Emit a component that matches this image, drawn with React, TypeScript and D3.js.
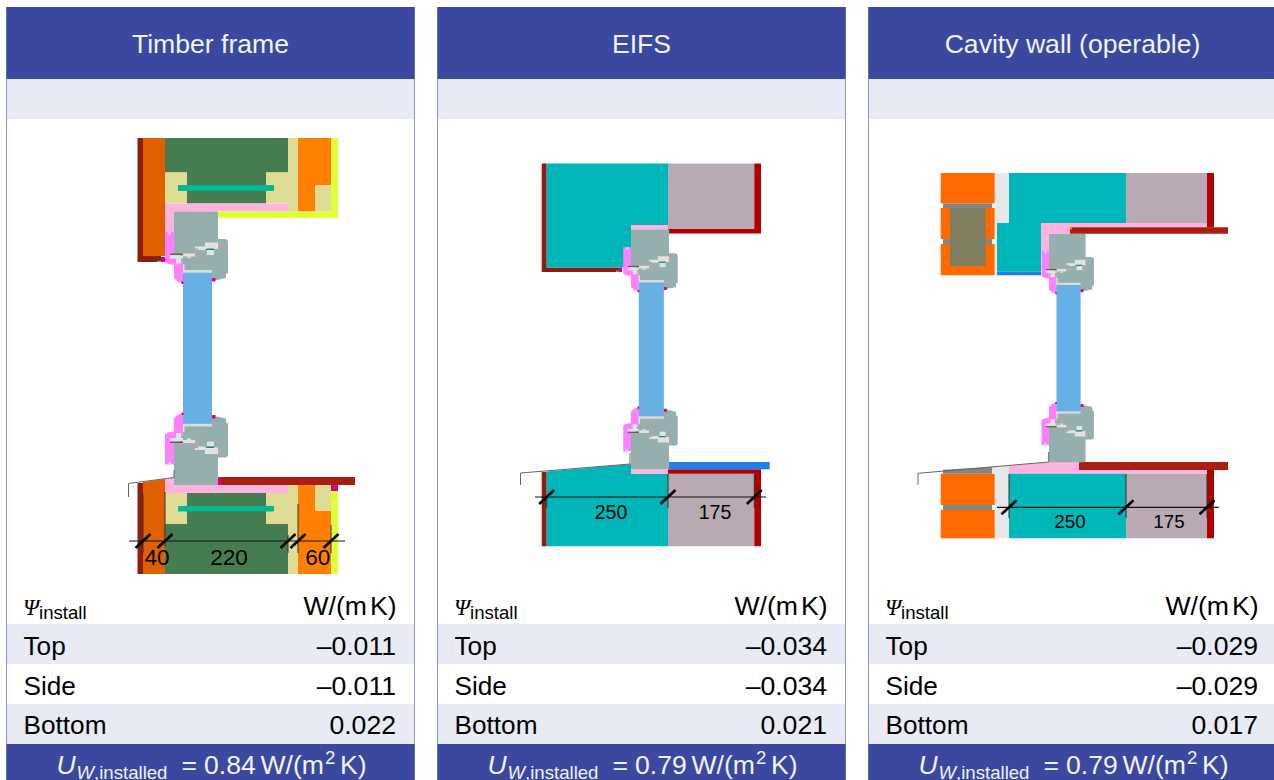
import React from "react";
import * as d3 from "d3";

type Pt = [number, number];
type Shape = { c: string; p: Pt[] };

const titles = ["Timber frame", "EIFS", "Cavity wall (operable)"];
const rowNames = ["Top", "Side", "Bottom"];
const psiTop = ["–0.011", "–0.034", "–0.029"];
const psiSide = ["–0.011", "–0.034", "–0.029"];
const psiBottom = ["0.022", "0.021", "0.017"];
const uValues = ["0.84", "0.79", "0.79"];
const panelLeft = [6.5, 437.5, 868.5];

const C = {
  header: "#3b489f", band: "#e8ebf4", border: "#8a93cf",
  green: "#467d50", beige: "#dfdc96", tealBar: "#00b894", pink: "#ffb3e0",
  orange: "#ff8000", lime: "#e0ff3a", rust: "#e06000", maroon: "#8a1f11",
  gasket: "#ff80ff", dot: "#e0007f", frame: "#94afae", glass: "#66b0e6",
  teal: "#00b6b8", taupe: "#b9a9b2", red: "#b00000", sill: "#a81e12",
  blue: "#1f80e8", brick: "#ff6a00", gray: "#858585", olive: "#7f7f5f",
  light: "#e8e8e8", detail: "#e2e2e2", hatch: "#b5a5a5", dark: "#6b5a5a", seal: "#0e8a8a", leaf: "#44c03a",
};

const r = (c: string, x0: number, y0: number, x1: number, y1: number): Shape => ({
  c, p: [[x0, y0], [x1, y0], [x1, y1], [x0, y1]],
});

const timberWall: Shape[] = [
  { c: C.maroon, p: [[137.5, 138], [143, 138], [143, 256], [161, 256], [161, 262], [137.5, 262]] },
  r(C.rust, 143, 138, 165, 256),
  { c: C.green, p: [[165, 138], [288, 138], [288, 172.5], [266, 172.5], [266, 203.5], [187, 203.5], [187, 172.5], [165, 172.5]] },
  r(C.beige, 165, 172.5, 187, 203.5),
  r(C.beige, 266, 172.5, 288, 203.5),
  r(C.beige, 288, 138, 298, 211.5),
  r(C.tealBar, 178, 185, 274, 191),
  { c: C.pink, p: [[165, 203.5], [288, 203.5], [288, 211.5], [174, 211.5], [174, 232], [165, 232], [165, 256]] },
  { c: C.orange, p: [[298, 138], [331, 138], [331, 185], [315, 185], [315, 211.5], [298, 211.5]] },
  r(C.beige, 315, 185, 331, 211.5),
  { c: C.lime, p: [[331, 138], [338, 138], [338, 218], [218, 218], [218, 211.5], [331, 211.5]] },
  r(C.dot, 161, 257, 165, 262),
  r(C.leaf, 157, 260.5, 161, 262),
  // bottom
  r(C.maroon, 137.5, 483, 143, 574),
  { c: C.rust, p: [[143, 482], [165, 479], [165, 574], [143, 574]] },
  { c: C.green, p: [[187, 493], [266, 493], [266, 524], [288, 524], [288, 574], [165, 574], [165, 524], [187, 524]] },
  r(C.beige, 165, 493, 187, 524),
  r(C.beige, 266, 493, 288, 524),
  r(C.beige, 288, 485, 298, 574),
  r(C.tealBar, 178, 506, 274, 511.5),
  { c: C.pink, p: [[165, 479], [174, 477.5], [174, 485], [288, 485], [288, 493], [165, 493]] },
  { c: C.orange, p: [[298, 485], [315, 485], [315, 511], [331, 511], [331, 574], [298, 574]] },
  r(C.beige, 315, 485, 331, 511),
  r(C.lime, 331, 491, 338, 574),
  r(C.dot, 331, 485, 338, 491),
  r(C.sill, 218, 477, 355, 485),
  r(C.dot, 218, 477, 221.5, 485),
];

const eifsWall: Shape[] = [
  { c: C.maroon, p: [[541.7, 163.5], [546.7, 163.5], [546.7, 267.5], [619, 267.5], [619, 272], [541.7, 272]] },
  { c: C.teal, p: [[546.7, 163.5], [668, 163.5], [668, 225], [631, 225], [631, 267.5], [546.7, 267.5]] },
  r(C.taupe, 668, 163.5, 754.3, 229),
  { c: C.red, p: [[754.3, 163.5], [761, 163.5], [761, 233.5], [668, 233.5], [668, 229], [754.3, 229]] },
  r(C.pink, 631, 225, 668, 229.5),
  r(C.dot, 619, 267.5, 622, 272),
  r(C.leaf, 616, 270.5, 619, 272),
  // bottom
  r(C.maroon, 541.7, 472, 546.7, 546.3),
  { c: C.teal, p: [[546.7, 471.5], [631, 464], [631, 473.7], [668, 473.7], [668, 546.3], [546.7, 546.3]] },
  r(C.pink, 631, 469.3, 668, 473.7),
  r(C.taupe, 668, 473.7, 754.3, 546.3),
  { c: C.red, p: [[668, 469.3], [761, 469.3], [761, 546.3], [754.3, 546.3], [754.3, 473.7], [668, 473.7]] },
  r(C.blue, 668, 462, 769.7, 469.3),
];

const cavityWall: Shape[] = [
  r(C.brick, 940.7, 173, 994.7, 203.5),
  r(C.gray, 943, 203.5, 992, 208),
  r(C.brick, 940.7, 208, 994.7, 239),
  r(C.gray, 943, 239, 992, 244),
  r(C.brick, 940.7, 244, 994.7, 275.3),
  r(C.olive, 950, 208, 985.5, 266),
  r(C.light, 995, 173, 1009, 223),
  r(C.light, 995, 223, 997, 275.3),
  { c: C.teal, p: [[1009, 173], [1126, 173], [1126, 223], [1041, 223], [1041, 271.7], [997, 271.7], [997, 223], [1009, 223]] },
  r(C.blue, 997, 271.7, 1041, 275.3),
  r(C.taupe, 1126, 173, 1207, 223),
  r(C.red, 1207, 173, 1214, 227.3),
  { c: C.pink, p: [[1041, 223], [1207, 223], [1207, 227.3], [1070, 227.3], [1070, 234], [1049, 234], [1049, 251], [1041, 251]] },
  r(C.sill, 1070, 227.3, 1228, 233.7),
  r(C.orange, 1070, 227.3, 1072, 229.5),
  // bottom
  { c: C.gray, p: [[943, 469.7], [992, 467], [992, 473.7], [943, 473.7]] },
  r(C.brick, 940.7, 473.7, 994.7, 505),
  r(C.gray, 943, 505, 992, 510),
  r(C.brick, 940.7, 510, 994.7, 538.3),
  { c: C.light, p: [[992, 467], [1009, 465.5], [1009, 538.3], [995, 538.3], [995, 473.7], [992, 473.7]] },
  { c: C.pink, p: [[1009, 465.5], [1049, 462], [1079, 462], [1079, 470], [1207, 470], [1207, 473.7], [1009, 473.7]] },
  r(C.teal, 1009, 473.7, 1126, 538.3),
  r(C.taupe, 1126, 473.7, 1207, 538.3),
  r(C.red, 1207, 470, 1214, 538.3),
  r(C.sill, 1079, 462, 1228, 470),
];

const walls = [timberWall, eifsWall, cavityWall];

// Window profile, top half; the bottom half is its mirror image.
const profileFrame: Pt[] = [[0, 0], [44, 0], [44, 27.5], [52, 27.5], [54, 29.5], [54, 61.5], [52, 62.5], [52, 66.5], [43, 68.5], [9, 68.5], [9, 50.5], [0, 43.5]];
const profileGasket: Pt[] = [[-9, 20.5], [0, 20.5], [0, 43.5], [9, 50.5], [9, 71.5], [4, 70.5], [0, 66.5], [0, 53.5], [-6, 52.5], [-9, 50.5]];
const profileDetails: Shape[] = [
  r(C.detail, -5.5, 20.5, -3, 23),
  { c: C.detail, p: [[-4, 42], [9, 44], [9, 47], [7, 47], [7, 52], [2, 52], [2, 47], [-4, 47]] },
  r(C.detail, 9, 42, 21, 45),
  r(C.detail, 13, 45, 17, 46.5),
  r(C.detail, 21, 35, 31, 38.5),
  r(C.detail, 31, 31, 44, 37.5),
  r(C.detail, 33, 38.5, 40, 43.5),
  r(C.seal, 32.5, 37, 40, 38.5),
  r(C.hatch, 44, 30, 47.5, 36),
  r(C.hatch, 21, 37, 24, 48),
  r(C.hatch, 6, 37, 9, 44),
  r(C.dark, -4, 42, 9, 43.5),
  r(C.detail, 9, 53, 10.5, 61),
];
const profileGlassTop = r("#dcdcdc", 9, 58.5, 38, 61.2);
const profileDots = [r(C.dot, 7.5, 70, 9.5, 72.5), r(C.dot, 38, 66.5, 41.5, 70)];
const glassLocalTop = 61.2;
const glassLocalLeft = 9;
const glassLocalRight = 38;

const windowX = [174, 631, 1049];
const windowTopY = [211.5, 229.5, 234];
const windowBottomY = [485, 469.3, 462.3];
const windowScale = [1, 0.865, 0.832];

const dripLines: Pt[][] = [
  [[174, 470], [174, 477.5], [128.5, 483.5], [128.5, 497]],
  [[630, 453], [630, 464], [520.5, 473], [520.5, 485]],
  [[1048.7, 452], [1048.7, 462], [918, 473.3], [918, 484.7]],
];

const dimLineY = [541, 497, 507.3];
const dimLineX: Pt[] = [[129, 345], [535, 766], [997, 1218.7]];
const dimTicks = [[143, 165, 288, 298, 331], [546.7, 668, 754.3], [1009, 1126, 1207]];
const dimTickTop = [[495, 492, 535, 504, 525], [497, 474, 474], [474, 474, 474]];
const dimTickBottom = [[553, 547, 553, 553, 553], [508, 508, 508], [518, 518, 518]];
const dimLabels = [["40", "220", "60"], ["250", "175"], ["250", "175"]];
const dimLabelX = [[157, 229, 317.7], [611, 715], [1070, 1169]];
const dimLabelY = [565, 519, 528];
const dimFont = [22.6, 19.5, 18.8];

const SANS = "'Liberation Sans', Arial, sans-serif";
const SERIF = "'Liberation Serif', 'DejaVu Serif', serif";

const line = d3.line<Pt>();

function Poly({ s, fx, fy }: { s: Shape; fx: (v: number) => number; fy: (v: number) => number }) {
  const d = line(s.p.map(([x, y]) => [fx(x), fy(y)] as Pt)) + "Z";
  return <path d={d} fill={s.c} />;
}

function WindowProfile({ i, y0, dir, front }: { i: number; y0: number; dir: number; front: boolean }) {
  const k = windowScale[i];
  const fx = d3.scaleLinear().domain([0, 100]).range([windowX[i], windowX[i] + 100 * k]);
  const fy = d3.scaleLinear().domain([0, 100]).range([y0, y0 + dir * 100 * k]);
  if (front) {
    return (
      <g>
        <Poly s={profileGlassTop} fx={fx} fy={fy} />
        {profileDots.map((s, j) => <Poly key={j} s={s} fx={fx} fy={fy} />)}
      </g>
    );
  }
  return (
    <g>
      <Poly s={{ c: C.gasket, p: profileGasket }} fx={fx} fy={fy} />
      <Poly s={{ c: C.frame, p: profileFrame }} fx={fx} fy={fy} />
      {profileDetails.map((s, j) => <Poly key={j} s={s} fx={fx} fy={fy} />)}
    </g>
  );
}

function Panel({ i }: { i: number }) {
  const x = panelLeft[i];
  const px = d3.scaleLinear().domain([0, 408]).range([x, x + 408]);
  const rows = [psiTop[i], psiSide[i], psiBottom[i]];
  const rowTop = [624, 664, 704];
  const baseline = [655, 694.5, 733.5];
  const same = (v: number) => v;
  const k = windowScale[i];
  const gx = d3.scaleLinear().domain([0, 100]).range([windowX[i], windowX[i] + 100 * k]);
  const gy = d3.scaleLinear().domain([0, 100]).range([windowTopY[i], windowTopY[i] + 100 * k]);
  const midGlass = (windowTopY[i] + windowBottomY[i]) / 2;
  const glassTop = gy(glassLocalTop);
  const mirrored = 2 * midGlass - glassTop;
  return (
    <g>
      <rect x={px(0)} y={7} width={408} height={773} fill="#fff" />
      <rect x={px(0)} y={79} width={408} height={40} fill={C.band} />
      {rowNames.map((_, j) => j !== 1 ? (
        <rect key={j} x={px(0)} y={rowTop[j]} width={408} height={40} fill={C.band} />
      ) : null)}
      <line x1={px(0)} x2={px(0)} y1={7} y2={780} stroke={C.border} strokeWidth={1} />
      <line x1={px(408)} x2={px(408)} y1={7} y2={780} stroke={C.border} strokeWidth={1} />
      <rect x={px(0)} y={7} width={408} height={72} fill={C.header} />
      <rect x={px(0)} y={744} width={408} height={36} fill={C.header} />
      <text x={px(204)} y={52.8} textAnchor="middle" fontFamily={SANS} fontSize={26.6} fill="#f2f3fb">{titles[i]}</text>

      {walls[i].map((s, j) => <Poly key={j} s={s} fx={same} fy={same} />)}
      <WindowProfile i={i} y0={windowTopY[i]} dir={1} front={false} />
      <WindowProfile i={i} y0={windowBottomY[i]} dir={-1} front={false} />
      <rect x={gx(glassLocalLeft)} y={glassTop} width={gx(glassLocalRight) - gx(glassLocalLeft)} height={mirrored - glassTop} fill={C.glass} />
      <WindowProfile i={i} y0={windowTopY[i]} dir={1} front={true} />
      <WindowProfile i={i} y0={windowBottomY[i]} dir={-1} front={true} />
      <path d={line(dripLines[i]) ?? ""} fill="none" stroke="#666" strokeWidth={1} />

      {dimTicks[i].map((t, j) => (
        <g key={j}>
          <line x1={t} x2={t} y1={dimTickTop[i][j]} y2={dimTickBottom[i][j]} stroke="#333" strokeWidth={1} />
          <line x1={t - 7.5} x2={t + 7.5} y1={dimLineY[i] + 7} y2={dimLineY[i] - 7} stroke="#000" strokeWidth={2.6} />
        </g>
      ))}
      <line x1={dimLineX[i][0]} x2={dimLineX[i][1]} y1={dimLineY[i]} y2={dimLineY[i]} stroke="#111" strokeWidth={1.2} />
      {dimLabels[i].map((t, j) => (
        <text key={j} x={dimLabelX[i][j]} y={dimLabelY[i]} textAnchor="middle" fontFamily={SANS} fontSize={dimFont[i]} fill="#000">{t}</text>
      ))}

      <text x={px(16.5)} y={615} fontFamily={SERIF} fontStyle="italic" fontSize={23} fill="#000">Ψ</text>
      <text x={px(32.5)} y={619} fontFamily={SANS} fontSize={18.6} fill="#000">install</text>
      <text x={px(390)} y={615} textAnchor="end" fontFamily={SANS} fontSize={26.6} fill="#000">W/(m<tspan dx={3}>K)</tspan></text>
      {rows.map((v, j) => (
        <g key={j}>
          <text x={px(17)} y={baseline[j]} fontFamily={SANS} fontSize={26.2} fill="#000">{rowNames[j]}</text>
          <text x={px(389.5)} y={baseline[j]} textAnchor="end" fontFamily={SANS} fontSize={26.6} fill="#000">{v}</text>
        </g>
      ))}

      <g fontFamily={SANS} fill="#f2f3fb">
        <text x={px(50)} y={773.5} fontSize={26.6} fontStyle="italic">U</text>
        <text x={px(70)} y={778.5} fontSize={18.6}><tspan fontStyle="italic">W</tspan>,installed</text>
        <text x={px(175)} y={773.5} fontSize={26.6}>=</text>
        <text x={px(197.5)} y={773.5} fontSize={26.6}>{uValues[i]}</text>
        <text x={px(254)} y={773.5} fontSize={26.6}>W/(m</text>
        <text x={px(318.5)} y={764} fontSize={18.6}>2</text>
        <text x={px(333.5)} y={773.5} fontSize={26.6}>K)</text>
      </g>
    </g>
  );
}

export default function App() {
  return (
    <svg width={1274} height={780} viewBox="0 0 1274 780"
      style={{ position: "absolute", left: 0, top: 0, display: "block", background: "#fff" }}>
      {titles.map((_, i) => <Panel key={i} i={i} />)}
    </svg>
  );
}
